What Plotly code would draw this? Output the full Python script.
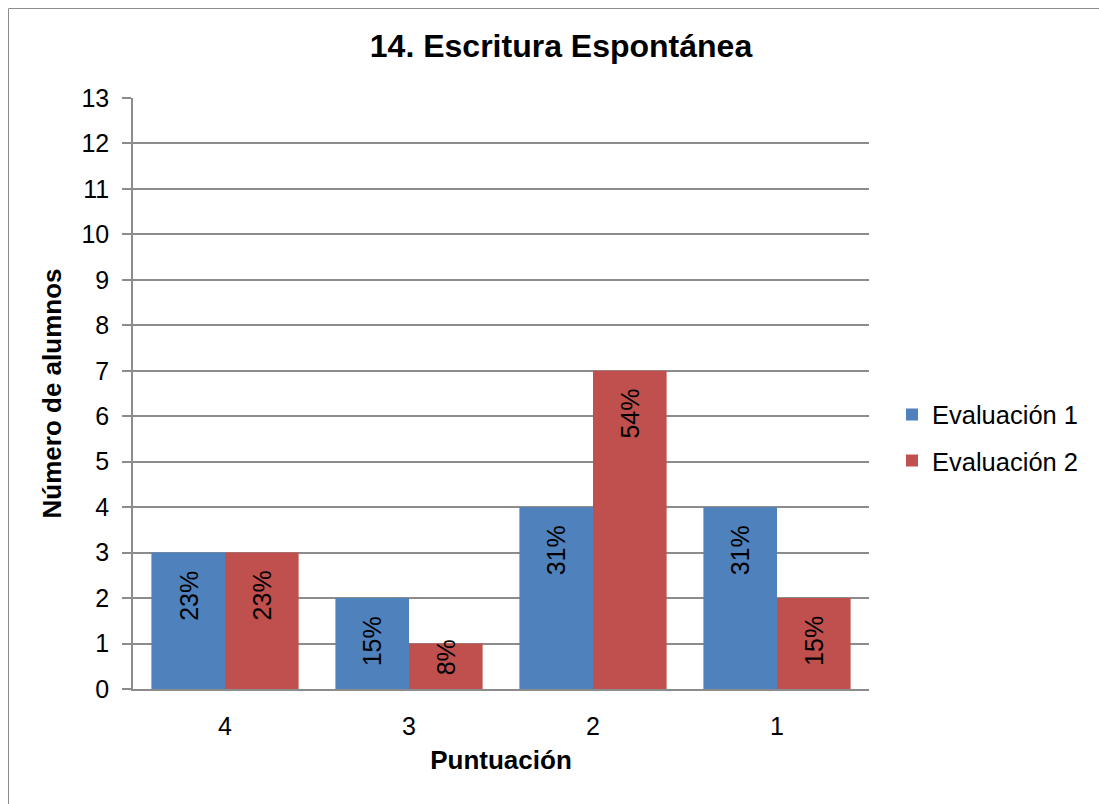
import plotly.graph_objects as go

# Data
categories = ["4", "3", "2", "1"]
eval1 = [3, 2, 4, 4]
eval2 = [3, 1, 7, 2]
series_names = ["Evaluación 1", "Evaluación 2"]
y_ticks = list(range(0, 14))

BLUE = "#4f81bd"
RED = "#c0504d"
GRID = "#8c8c8c"
FONT = "Liberation Sans, Arial, sans-serif"

W, H = 1099, 804
M_L, M_R, M_T, M_B = 133, 230, 98, 115
plot_w = W - M_L - M_R
plot_h = H - M_T - M_B

fig = go.Figure()
for name, vals, col in [(series_names[0], eval1, BLUE), (series_names[1], eval2, RED)]:
    fig.add_trace(go.Bar(
        x=categories, y=vals, name=name, marker=dict(color=col, line=dict(width=0)),
        legendgroup=name,
    ))

# Percentage labels (share of the 13 pupils), rotated, near the top of each bar
total1, total2 = sum(eval1), sum(eval2)
cat_w = plot_w / len(categories)
bar_w = cat_w * 0.8 / 2
px_per_unit = plot_h / 13
annotations = []
for vals, total, side in [(eval1, total1, -1), (eval2, total2, 1)]:
    for i, v in enumerate(vals):
        pct = round(v / total * 100)
        short = v * px_per_unit < 60
        annotations.append(dict(
            x=i, y=v, xref="x", yref="y", text=f"{pct}%", showarrow=False,
            textangle=-90, xshift=side * bar_w / 2, yanchor="top",
            yshift=6 if short else -16,
            font=dict(family=FONT, size=25, color="#000000"),
        ))

fig.update_layout(
    width=W, height=H,
    margin=dict(l=M_L, r=M_R, t=M_T, b=M_B, autoexpand=False),
    paper_bgcolor="white", plot_bgcolor="white",
    barmode="group", bargap=0.2, bargroupgap=0,
    font=dict(family=FONT, color="#000000"),
    title=dict(
        text="<b>14. Escritura Espontánea</b>", xref="container", x=561 / W,
        xanchor="center", yref="container", y=1 - 46 / H, yanchor="middle",
        font=dict(family=FONT, size=32, color="#000000"),
    ),
    legend=dict(
        x=(892 - M_L) / plot_w, xanchor="left", y=0.425, yanchor="middle",
        font=dict(family=FONT, size=25.5, color="#000000"),
        traceorder="grouped", tracegroupgap=10, bgcolor="rgba(0,0,0,0)",
    ),
    annotations=annotations,
    shapes=[dict(
        type="rect", xref="paper", yref="paper",
        x0=(8.5 - M_L) / plot_w, x1=(1120 - M_L) / plot_w,
        y0=-(H + 20 - M_T - plot_h) / plot_h, y1=(H - M_B - 8.5) / plot_h,
        line=dict(color=GRID, width=1), fillcolor="rgba(0,0,0,0)", layer="below",
    )],
)

fig.update_xaxes(
    type="category", range=[-0.5, len(categories) - 0.5],
    showgrid=False, showline=True, linecolor=GRID, linewidth=1.5,
    ticks="", ticklabelstandoff=14,
    tickfont=dict(family=FONT, size=25, color="#000000"),
    title=dict(text="<b>Puntuación</b>", font=dict(family=FONT, size=26, color="#000000"), standoff=12),
)
fig.update_yaxes(
    range=[0, 13], tickvals=y_ticks, showgrid=True, gridcolor=GRID, gridwidth=1.5,
    showline=True, linecolor=GRID, linewidth=1.5, ticks="outside", ticklen=9,
    tickcolor=GRID, tickwidth=1.5, ticklabelstandoff=8, zeroline=False,
    tickfont=dict(family=FONT, size=25, color="#000000"),
    title=dict(text="<b>Número de alumnos</b>", font=dict(family=FONT, size=26, color="#000000"), standoff=12),
)

fig.write_html("out.html")
